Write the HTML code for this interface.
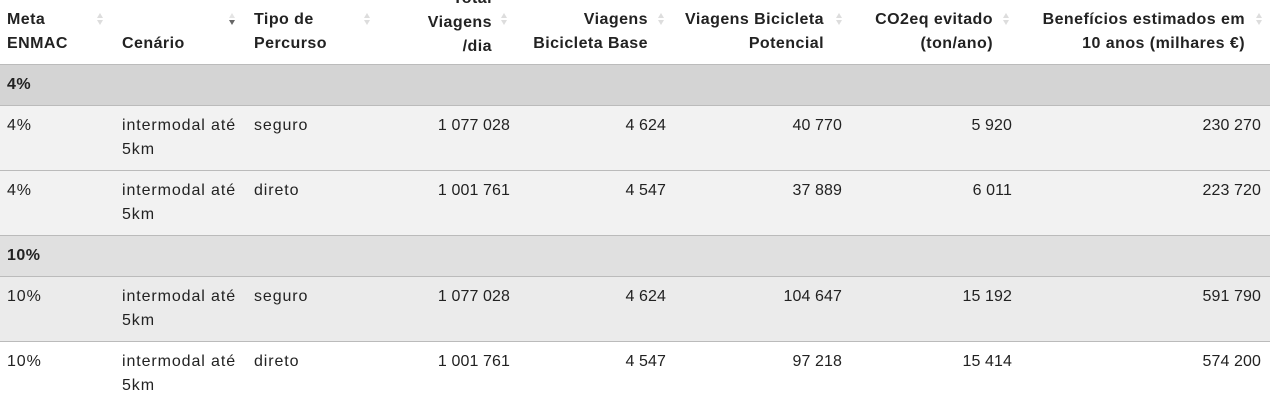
<!DOCTYPE html>
<html><head><meta charset="utf-8"><style>
body{margin:0;width:1285px;height:406px;overflow:hidden;background:#fff;font-family:"Liberation Sans",sans-serif;color:#222;font-size:16px;letter-spacing:0.9px;position:relative}
.r{position:absolute;left:0;width:1270px;border-top:1px solid #bbb;box-sizing:border-box}
.t{position:absolute;white-space:nowrap;line-height:24px}
.h{font-weight:bold;letter-spacing:0.45px}
.ra{text-align:right;letter-spacing:0.1px}
.h.ra{letter-spacing:0.45px}
.s{position:absolute;width:0;height:0;border-left:3px solid transparent;border-right:3px solid transparent}
</style></head><body>
<script>
const headers=[["Meta","ENMAC"],["","Cenário"],["Tipo de","Percurso"],["Total","Viagens","/dia"],["Viagens","Bicicleta Base"],["Viagens Bicicleta","Potencial"],["CO2eq evitado","(ton/ano)"],["Benefícios estimados em","10 anos (milhares €)"]];
const groups=["4%","10%"];
const metas=["4%","4%","10%","10%"];
const cenarios=["intermodal até","intermodal até","intermodal até","intermodal até"];
const tipos=["seguro","direto","seguro","direto"];
const total=["1 077 028","1 001 761","1 077 028","1 001 761"];
const base=["4 624","4 547","4 624","4 547"];
const pot=["40 770","37 889","104 647","97 218"];
const co2=["5 920","6 011","15 192","15 414"];
const ben=["230 270","223 720","591 790","574 200"];
const root=document.body;
function el(cls,style,txt,name,inter){const d=document.createElement('div');d.className=cls;d.setAttribute('style',style);if(txt!==undefined)d.textContent=txt;


root.appendChild(d);return d;}
const leftX=[7,122,254];
const rightX=[492,648,824,993,1245];
const iconX=[97,229,364,501,658,836,1003,1256];
headers.forEach((h,i)=>{
  const n=h.length; const startY=n===3?-13:8;
  h.forEach((line,j)=>{
    if(!line)return;
    const y=startY+j*24;
    if(i<3) el('t h','left:'+leftX[i]+'px;top:'+y+'px',line,'column-header',true);
    else el('t h ra','right:'+(1285-rightX[i-3])+'px;top:'+y+'px',line,'column-header',true);
  });
  el('s','left:'+iconX[i]+'px;top:13px;border-bottom:5px solid '+(i===1?'#e4e4e4':'#ddd'),undefined,'sort-icon',true);
  el('s','left:'+iconX[i]+'px;top:20px;border-top:5px solid '+(i===1?'#666':'#ddd'),undefined,'sort-icon',true);
});
const drx=[510,666,842,1012,1261];
let y=64;
const rowBgs=['#f2f2f2','#f2f2f2','#ebebeb','#fff'];
const gBgs=['#d4d4d4','#e0e0e0'];
let k=0;
groups.forEach((g,gi)=>{
  el('r','top:'+y+'px;height:42px;background:'+gBgs[gi],undefined,'group-row',false);
  el('t h','left:7px;top:'+(y+9)+'px',g,'group-label',false);
  y+=41;
  for(let r=0;r<2;r++,k++){
    el('r','top:'+y+'px;height:66px;background:'+rowBgs[k],undefined,'table-row',false);
    const ty=y+9;
    el('t','left:7px;top:'+ty+'px',metas[k],'meta-cell',false);
    el('t','left:122px;top:'+ty+'px',cenarios[k],'cenario-cell',false);
    el('t','left:122px;top:'+(ty+24)+'px','5km','cenario-cell',false);
    el('t','left:254px;top:'+ty+'px',tipos[k],'tipo-cell',false);
    [total,base,pot,co2,ben].forEach((arr,c)=>{
      el('t ra','right:'+(1285-drx[c])+'px;top:'+ty+'px',arr[k],'value-cell',false);
    });
    y+=65;
  }
});
</script>
</body></html>
